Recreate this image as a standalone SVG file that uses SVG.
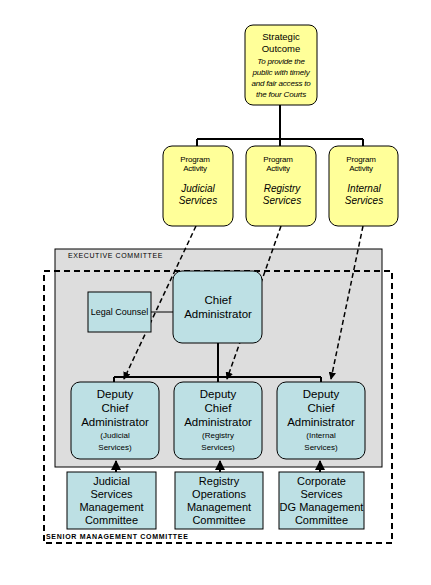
<svg xmlns="http://www.w3.org/2000/svg" width="431" height="585" viewBox="0 0 431 585">
<defs>
<style>
.y{fill:#FFFF99;stroke:#000;stroke-width:1}
.b{fill:#BDE0E4;stroke:#000;stroke-width:1}
.t{font-family:"Liberation Sans",Arial,sans-serif;fill:#000;text-anchor:middle}
.i{font-style:italic}
.ln{stroke:#000;stroke-width:2;fill:none}
.ds{stroke:#000;stroke-width:1.5;fill:none;stroke-dasharray:5,3}
</style>
<marker id="ah" viewBox="0 0 10 10" refX="9" refY="5" markerWidth="5" markerHeight="5" orient="auto">
<path d="M0,0 L10,5 L0,10 z" fill="#000"/>
</marker>
</defs>
<rect width="431" height="585" fill="#fff"/>

<g id="executive-committee">
<rect x="55" y="249" width="327" height="218" fill="#DDDDDD" stroke="#000" stroke-width="1"/>
<text x="68" y="258" font-family="Liberation Sans,Arial,sans-serif" font-size="7" letter-spacing="0.6">EXECUTIVE COMMITTEE</text>
</g>

<g id="senior-management-committee">
<rect x="44" y="271" width="348" height="272" fill="none" stroke="#000" stroke-width="2" stroke-dasharray="6,4"/>
<text x="46" y="539" font-family="Liberation Sans,Arial,sans-serif" font-size="7" font-weight="bold" letter-spacing="0.7">SENIOR MANAGEMENT COMMITTEE</text>
</g>

<g id="connectors">
<path class="ln" d="M280,105 V139 M197,139 H363 M197,139 V146 M280,139 V146 M363,139 V146"/>
<path class="ln" d="M151,312 H173" style="stroke-width:1"/>
<path class="ln" d="M218,343 V377 M114,377 H321 M114,377 V382 M218,377 V382 M321,377 V382"/>
<path class="ds" d="M196,226 L124,379" marker-end="url(#ah)"/>
<path class="ds" d="M281,226 L227,379" marker-end="url(#ah)"/>
<path class="ds" d="M363,226 L331,379" marker-end="url(#ah)"/>
<path class="ln" d="M116,472 V461" marker-end="url(#ah)"/>
<path class="ln" d="M220,472 V461" marker-end="url(#ah)"/>
<path class="ln" d="M320,472 V461" marker-end="url(#ah)"/>
</g>

<g id="strategic-outcome">
<rect class="y" x="245" y="25" width="72" height="80" rx="8"/>
<text class="t" font-size="9.5" x="281" y="40">Strategic</text>
<text class="t" font-size="9.5" x="281" y="52">Outcome</text>
<text class="t i" font-size="8" x="281" y="64" letter-spacing="-0.2">To provide the</text>
<text class="t i" font-size="8" x="281" y="75" letter-spacing="-0.2">public with timely</text>
<text class="t i" font-size="8" x="281" y="86" letter-spacing="-0.2">and fair access to</text>
<text class="t i" font-size="8" x="281" y="97" letter-spacing="-0.2">the four Courts</text>
</g>

<g id="pa-judicial">
<rect class="y" x="163" y="146" width="70" height="80" rx="9"/>
<text class="t" font-size="8" x="195" y="162" letter-spacing="-0.2">Program</text>
<text class="t" font-size="8" x="195" y="171" letter-spacing="-0.2">Activity</text>
<text class="t i" font-size="10" x="198" y="192">Judicial</text>
<text class="t i" font-size="10" x="198" y="204">Services</text>
</g>
<g id="pa-registry">
<rect class="y" x="246" y="146" width="70" height="80" rx="9"/>
<text class="t" font-size="8" x="278" y="162" letter-spacing="-0.2">Program</text>
<text class="t" font-size="8" x="278" y="171" letter-spacing="-0.2">Activity</text>
<text class="t i" font-size="10" x="282" y="192">Registry</text>
<text class="t i" font-size="10" x="282" y="204">Services</text>
</g>
<g id="pa-internal">
<rect class="y" x="329" y="146" width="69" height="80" rx="9"/>
<text class="t" font-size="8" x="361" y="162" letter-spacing="-0.2">Program</text>
<text class="t" font-size="8" x="361" y="171" letter-spacing="-0.2">Activity</text>
<text class="t i" font-size="10" x="364" y="192">Internal</text>
<text class="t i" font-size="10" x="364" y="204">Services</text>
</g>

<g id="legal-counsel">
<rect class="b" x="88" y="292" width="63" height="40"/>
<text class="t" font-size="9" x="119.5" y="315">Legal Counsel</text>
</g>

<g id="chief-administrator">
<rect class="b" x="173" y="271" width="89" height="72" rx="9"/>
<text class="t" font-size="11.5" x="218" y="304">Chief</text>
<text class="t" font-size="11.5" x="218" y="318">Administrator</text>
</g>

<g id="dca-judicial">
<rect class="b" x="71" y="382" width="88" height="77" rx="9"/>
<text class="t" font-size="11.5" x="115" y="398">Deputy</text>
<text class="t" font-size="11.5" x="115" y="412">Chief</text>
<text class="t" font-size="11.5" x="115" y="426">Administrator</text>
<text class="t" font-size="8" x="115" y="438">(Judicial</text>
<text class="t" font-size="8" x="115" y="450">Services)</text>
</g>
<g id="dca-registry">
<rect class="b" x="174" y="382" width="88" height="77" rx="9"/>
<text class="t" font-size="11.5" x="218" y="398">Deputy</text>
<text class="t" font-size="11.5" x="218" y="412">Chief</text>
<text class="t" font-size="11.5" x="218" y="426">Administrator</text>
<text class="t" font-size="8" x="218" y="438">(Registry</text>
<text class="t" font-size="8" x="218" y="450">Services)</text>
</g>
<g id="dca-internal">
<rect class="b" x="277" y="382" width="88" height="77" rx="9"/>
<text class="t" font-size="11.5" x="321" y="398">Deputy</text>
<text class="t" font-size="11.5" x="321" y="412">Chief</text>
<text class="t" font-size="11.5" x="321" y="426">Administrator</text>
<text class="t" font-size="8" x="321" y="438">(Internal</text>
<text class="t" font-size="8" x="321" y="450">Services)</text>
</g>

<g id="judicial-services-mc">
<rect class="b" x="67" y="472" width="89" height="57"/>
<text class="t" font-size="11" x="111.5" y="485">Judicial</text>
<text class="t" font-size="11" x="111.5" y="498">Services</text>
<text class="t" font-size="11" x="111.5" y="511">Management</text>
<text class="t" font-size="11" x="111.5" y="524">Committee</text>
</g>
<g id="registry-operations-mc">
<rect class="b" x="175" y="472" width="88" height="57"/>
<text class="t" font-size="11" x="219" y="485">Registry</text>
<text class="t" font-size="11" x="219" y="498">Operations</text>
<text class="t" font-size="11" x="219" y="511">Management</text>
<text class="t" font-size="11" x="219" y="524">Committee</text>
</g>
<g id="corporate-services-mc">
<rect class="b" x="279" y="472" width="85" height="57"/>
<text class="t" font-size="11" x="321.5" y="485">Corporate</text>
<text class="t" font-size="11" x="321.5" y="498">Services</text>
<text class="t" font-size="11" x="321.5" y="511">DG Management</text>
<text class="t" font-size="11" x="321.5" y="524">Committee</text>
</g>
</svg>
